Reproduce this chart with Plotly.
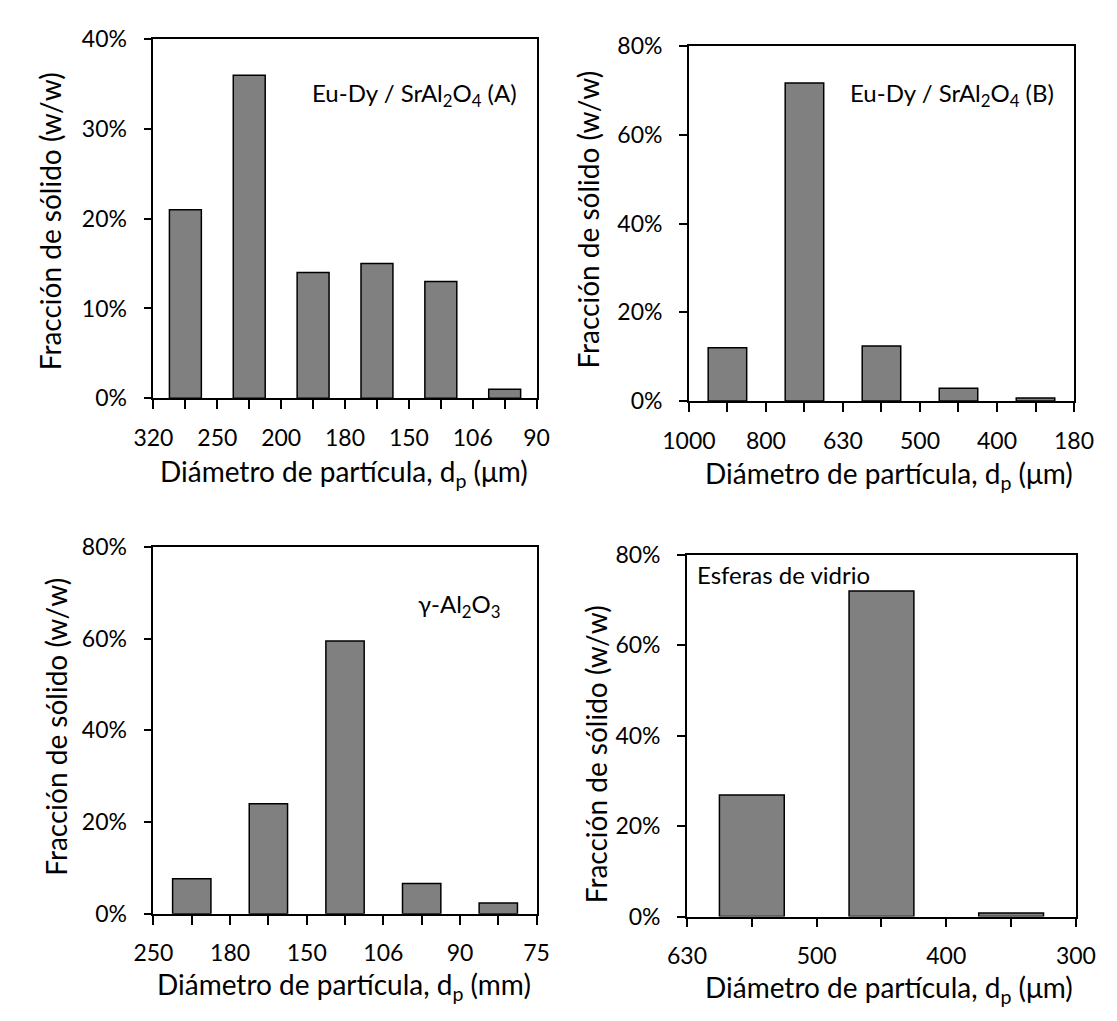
import plotly.graph_objects as go

# ---------------- data ----------------
edges_A = ["320", "250", "200", "180", "150", "106", "90"]
vals_A = [21, 36, 14, 15, 13, 1]

edges_B = ["1000", "800", "630", "500", "400", "180"]
vals_B = [12, 71.7, 12.4, 2.9, 0.7]

edges_C = ["250", "180", "150", "106", "90", "75"]
vals_C = [7.6, 24, 59.5, 6.6, 2.3]

edges_D = ["630", "500", "400", "300"]
vals_D = [26.9, 72, 0.8]

labels = [
    "Eu-Dy / SrAl<sub>2</sub>O<sub>4</sub> (A)",
    "Eu-Dy / SrAl<sub>2</sub>O<sub>4</sub> (B)",
    "γ-Al<sub>2</sub>O<sub>3</sub>",
    "Esferas de vidrio",
]
xtitles = [
    "Diámetro de partícula, d<sub>p</sub> (μm)",
    "Diámetro de partícula, d<sub>p</sub> (μm)",
    "Diámetro de partícula, d<sub>p</sub> (mm)",
    "Diámetro de partícula, d<sub>p</sub> (μm)",
]
ytitle = "Fracción de sólido (w/w)"
ymax = [40, 80, 80, 80]
ydtick = [10, 20, 20, 20]

# ---------------- layout geometry (pixels) ----------------
W, H = 1117, 1021
boxes = [  # left, right, top, bottom
    (132, 532, 25, 394),
    (691, 1093, 32, 397),
    (132, 532, 547, 924),
    (689, 1095, 555, 927),
]
label_pos = [(404, 82, "center"), (966, 82, "center"), (452, 607, "center"), (697, 575, "left")]
xtitle_pos = [(331, 471), (900, 473), (331, 998), (900, 1001)]
ytitle_pos = [(24, 212), (586, 210), (30, 732), (594, 760)]

FONT = "Lato"
TICK_SIZE = 23
TITLE_SIZE = 28
LABEL_SIZE = 24

def px(x):
    return x / W

def py(y):
    return 1 - y / H

fig = go.Figure()
series = [(edges_A, vals_A), (edges_B, vals_B), (edges_C, vals_C), (edges_D, vals_D)]

annotations = []
for k, (edges, vals) in enumerate(series):
    n = len(vals)
    xa = "x" if k == 0 else f"x{k+1}"
    ya = "y" if k == 0 else f"y{k+1}"
    fig.add_trace(go.Bar(
        x=[i + 0.5 for i in range(n)], y=vals, width=0.5,
        marker=dict(color="#808080", line=dict(color="black", width=1.5)),
        xaxis=xa, yaxis=ya, showlegend=False, hoverinfo="y",
    ))
    l, r, t, b = boxes[k]
    xkey = "xaxis" if k == 0 else f"xaxis{k+1}"
    ykey = "yaxis" if k == 0 else f"yaxis{k+1}"
    fig.update_layout(**{
        xkey: dict(
            domain=[px(l), px(r)], anchor=ya, range=[0, n],
            tickmode="array", tickvals=list(range(n + 1)), ticktext=edges,
            ticks="outside", ticklen=9, tickwidth=1.5, tickcolor="black",
            ticklabelstandoff=9,
            minor=dict(tickmode="array", tickvals=[i + 0.5 for i in range(n)],
                       ticks="outside", ticklen=9, tickwidth=1.5, tickcolor="black"),
            showline=True, linecolor="black", linewidth=1.8, mirror=True,
            showgrid=False, zeroline=False, fixedrange=True,
            tickfont=dict(family=FONT, size=TICK_SIZE, color="black"),
        ),
        ykey: dict(
            domain=[py(b), py(t)], anchor=xa, range=[0, ymax[k]],
            tickmode="linear", tick0=0, dtick=ydtick[k], ticksuffix="%",
            ticks="outside", ticklen=8, tickwidth=1.5, tickcolor="black",
            ticklabelstandoff=12,
            showline=True, linecolor="black", linewidth=1.8, mirror=True,
            showgrid=False, zeroline=False, fixedrange=True,
            tickfont=dict(family=FONT, size=TICK_SIZE, color="black"),
        ),
    })
    lx, ly, anc = label_pos[k]
    annotations.append(dict(text=labels[k], x=px(lx), y=py(ly), xref="paper", yref="paper",
                            xanchor=anc, yanchor="middle", showarrow=False,
                            font=dict(family=FONT, size=LABEL_SIZE, color="black")))
    tx, ty = xtitle_pos[k]
    annotations.append(dict(text=xtitles[k], x=px(tx), y=py(ty), xref="paper", yref="paper",
                            xanchor="center", yanchor="middle", showarrow=False,
                            font=dict(family=FONT, size=TITLE_SIZE, color="black")))
    yx, yy = ytitle_pos[k]
    annotations.append(dict(text=ytitle, x=px(yx), y=py(yy), xref="paper", yref="paper",
                            xanchor="center", yanchor="middle", showarrow=False, textangle=-90,
                            font=dict(family=FONT, size=TITLE_SIZE, color="black")))

fig.update_layout(
    width=W, height=H, margin=dict(l=0, r=0, t=0, b=0),
    paper_bgcolor="white", plot_bgcolor="white",
    annotations=annotations, showlegend=False,
)

fig.write_html("out.html")
